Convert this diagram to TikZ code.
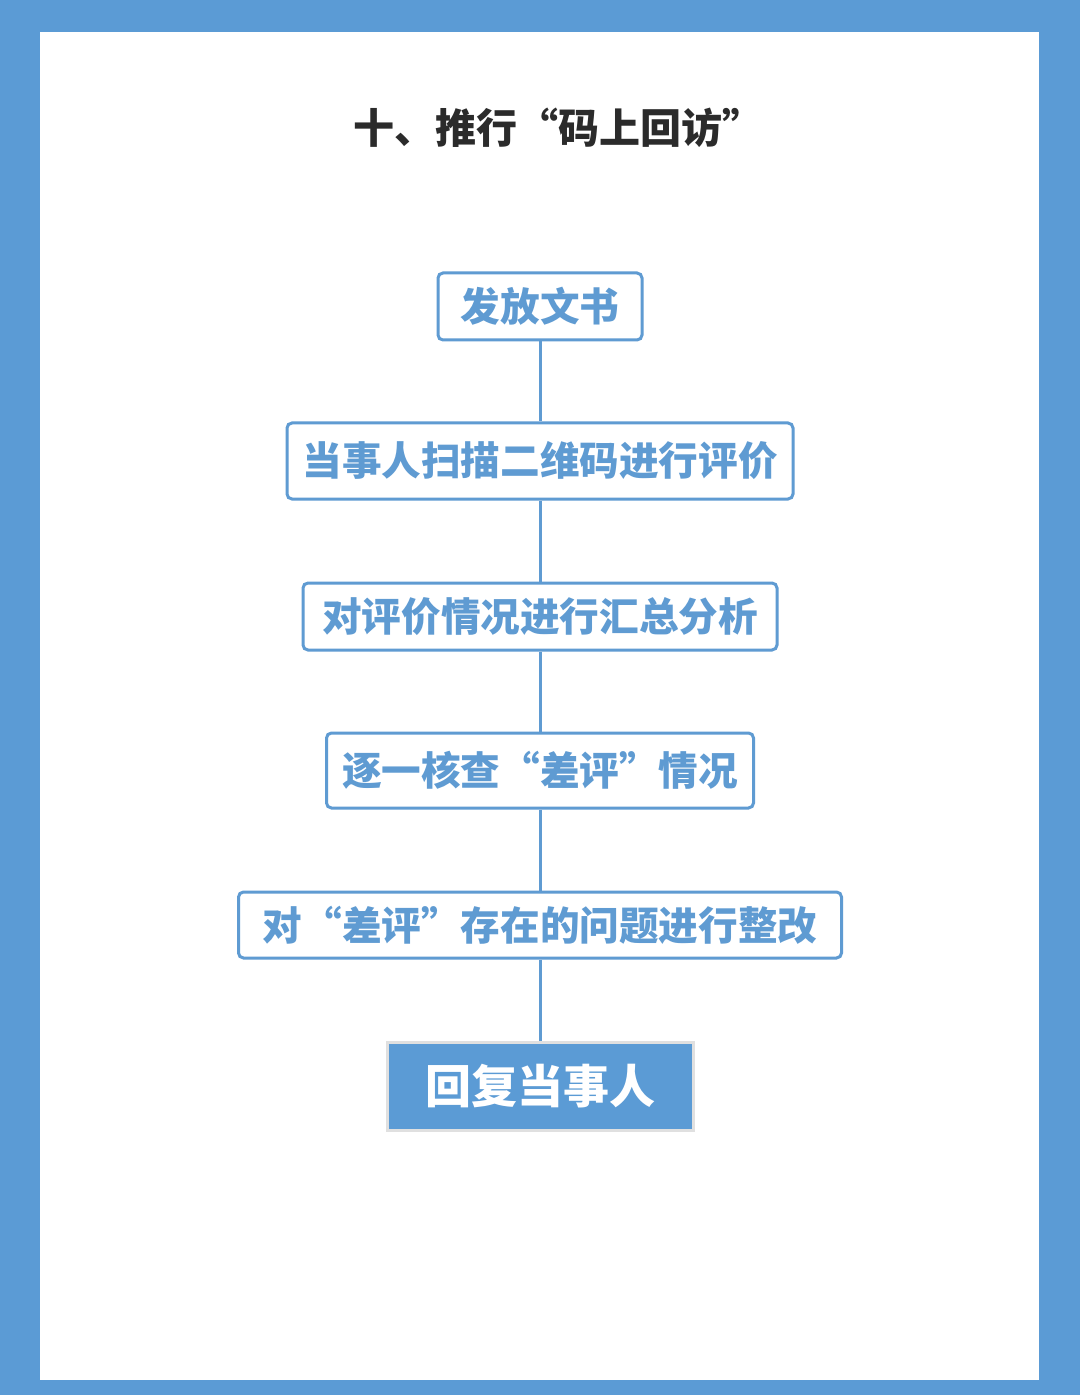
\documentclass[tikz,border=0pt]{standalone}
\usepackage{fontspec}
\newfontfamily\cjk{Noto Sans CJK SC}
\definecolor{frameblue}{HTML}{5B9BD5}
\definecolor{boxblue}{HTML}{5F9BD2}
\definecolor{titlegray}{HTML}{2B2B2B}
\tikzset{
	StepBox/.style={draw=boxblue, line width=1.5pt, rounded corners=2.5pt, fill=white,
		text=boxblue, font=\cjk\bfseries\fontsize{19.8}{19.8}\selectfont, inner sep=0pt},
	EndBox/.style={draw=black!12, line width=1.5pt, fill=frameblue,
		text=white, font=\cjk\bfseries\fontsize{23}{23}\selectfont, inner sep=0pt},
	LinkStyle/.style={draw=boxblue, line width=1.5pt}
}
\begin{document}
\begin{tikzpicture}[x=0.5pt,y=-0.5pt]
	\fill[frameblue] (0,0) rectangle (1080,1395);
	\fill[white] (40,32) rectangle (1039,1380);
	\useasboundingbox (0,0) rectangle (1080,1395);
	% title
	\node[text=titlegray, font=\cjk\bfseries\fontsize{20.5}{20.5}\selectfont] (title) at (558,128) {十、推行“码上回访”};
	% steps
	\node[StepBox, minimum width=102pt, minimum height=33.5pt] (s1) at (540,306.5) {发放文书};
	\node[StepBox, minimum width=253pt, minimum height=38pt] (s2) at (540,461) {当事人扫描二维码进行评价};
	\node[StepBox, minimum width=237pt, minimum height=33.5pt] (s3) at (540,616.5) {对评价情况进行汇总分析};
	\node[StepBox, minimum width=213.5pt, minimum height=37.5pt] (s4) at (540,770.5) {逐一核查“差评”情况};
	\node[StepBox, minimum width=301.5pt, minimum height=33pt] (s5) at (540,925) {对“差评”存在的问题进行整改};
	\node[EndBox, minimum width=153pt, minimum height=44pt] (s6) at (540,1086) {回复当事人};
	% links
	\foreach \a/\b in {s1/s2,s2/s3,s3/s4,s4/s5,s5/s6}
		\path[LinkStyle] (\a.south) -- (\b.north);
\end{tikzpicture}
\end{document}
